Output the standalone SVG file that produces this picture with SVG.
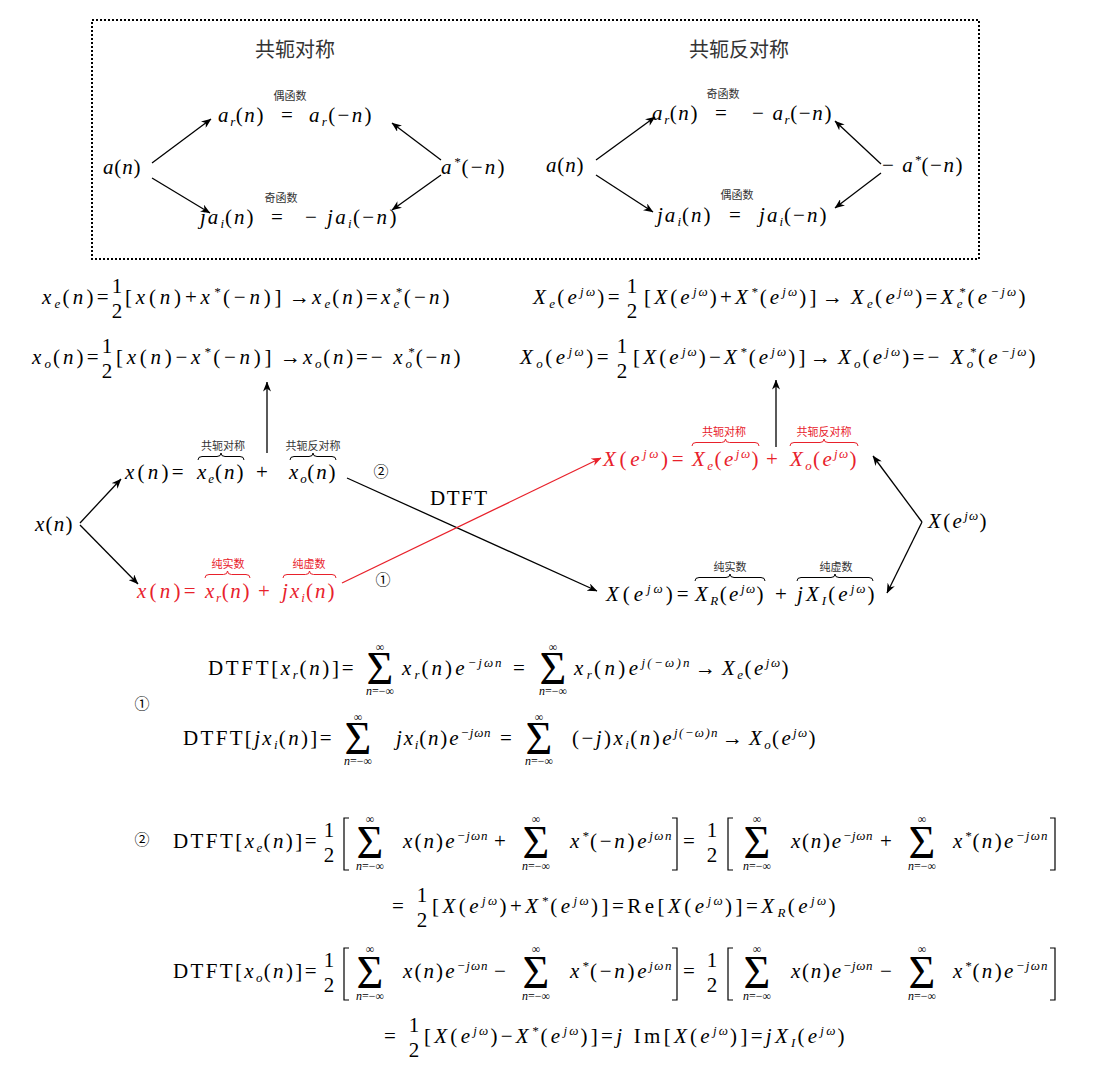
<svg xmlns="http://www.w3.org/2000/svg" width="1105" height="1081" viewBox="0 0 1105 1081">
<style>
.m{font-family:"Liberation Serif",serif;font-size:21px;letter-spacing:1.5px;fill:#000}
.i{font-style:italic}
.sb{font-size:13px;font-style:italic;baseline-shift:-4px;letter-spacing:0.4px}
.sp{font-size:13px;font-style:italic;baseline-shift:8px;letter-spacing:0.4px}
.fr{text-anchor:middle;letter-spacing:0}
.sig{font-family:"Liberation Serif",serif;font-size:46px;text-anchor:middle;fill:#000}
.lim{font-family:"Liberation Serif",serif;font-size:12px;text-anchor:middle;fill:#000}
.cn{font-family:"Noto Sans CJK SC",sans-serif;font-size:11px;text-anchor:middle;fill:#333}
.ti{font-family:"Noto Sans CJK SC",sans-serif;font-size:20px;text-anchor:middle;fill:#333}
.cc{font-family:"Noto Sans CJK SC",sans-serif;font-size:15px;text-anchor:middle;fill:#000}
.red{fill:#e8212b}
.br{fill:none;stroke:#000;stroke-width:1}
.brr{fill:none;stroke:#e8212b;stroke-width:1}
.bk{fill:none;stroke:#000;stroke-width:1.2}
.ln{fill:none;stroke:#000;stroke-width:1.3}
.lnr{fill:none;stroke:#e8212b;stroke-width:1.3}
</style>
<defs>
<marker id="ah" viewBox="0 0 10 8" refX="9.5" refY="4" markerWidth="10" markerHeight="8" markerUnits="userSpaceOnUse" orient="auto"><path d="M0,0 L10,4 L0,8 L3,4 z" fill="#000"/></marker>
<marker id="ahr" viewBox="0 0 10 8" refX="9.5" refY="4" markerWidth="10" markerHeight="8" markerUnits="userSpaceOnUse" orient="auto"><path d="M0,0 L10,4 L0,8 L3,4 z" fill="#e8212b"/></marker>
</defs>
<rect width="1105" height="1081" fill="#fff"/>
<rect x="92" y="20" width="887" height="239" fill="none" stroke="#000" stroke-width="2" stroke-dasharray="2 2"/>

<g id="box-left">
<text class="ti" x="295" y="57">共轭对称</text>
<text class="m" x="103" y="174" textLength="39" lengthAdjust="spacing"><tspan class="i">a</tspan>(<tspan class="i">n</tspan>)</text>
<text class="cn" x="290" y="100">偶函数</text>
<text class="m" x="218" y="122" textLength="47" lengthAdjust="spacing"><tspan class="i">a</tspan><tspan class="sb">r</tspan>(<tspan class="i">n</tspan>)</text>
<text class="m" x="281" y="122">=</text>
<text class="m" x="309" y="122" textLength="64" lengthAdjust="spacing"><tspan class="i">a</tspan><tspan class="sb">r</tspan>(−<tspan class="i">n</tspan>)</text>
<text class="cn" x="281" y="202">奇函数</text>
<text class="m" x="200" y="224" textLength="55" lengthAdjust="spacing"><tspan class="i">ja</tspan><tspan class="sb">i</tspan>(<tspan class="i">n</tspan>)</text>
<text class="m" x="271" y="224">=</text>
<text class="m" x="305" y="224" textLength="93" lengthAdjust="spacing">− <tspan class="i">ja</tspan><tspan class="sb">i</tspan>(−<tspan class="i">n</tspan>)</text>
<text class="m" x="441" y="174" textLength="65" lengthAdjust="spacing"><tspan class="i">a</tspan><tspan class="sp">*</tspan>(−<tspan class="i">n</tspan>)</text>
</g>

<g id="box-right">
<text class="ti" x="739" y="57">共轭反对称</text>
<text class="m" x="546" y="172" textLength="39" lengthAdjust="spacing"><tspan class="i">a</tspan>(<tspan class="i">n</tspan>)</text>
<text class="cn" x="723" y="98">奇函数</text>
<text class="m" x="652" y="120" textLength="47" lengthAdjust="spacing"><tspan class="i">a</tspan><tspan class="sb">r</tspan>(<tspan class="i">n</tspan>)</text>
<text class="m" x="715" y="120">=</text>
<text class="m" x="752" y="120" textLength="81" lengthAdjust="spacing">− <tspan class="i">a</tspan><tspan class="sb">r</tspan>(−<tspan class="i">n</tspan>)</text>
<text class="cn" x="737" y="199">偶函数</text>
<text class="m" x="657" y="222" textLength="55" lengthAdjust="spacing"><tspan class="i">ja</tspan><tspan class="sb">i</tspan>(<tspan class="i">n</tspan>)</text>
<text class="m" x="729" y="222">=</text>
<text class="m" x="759" y="222" textLength="69" lengthAdjust="spacing"><tspan class="i">ja</tspan><tspan class="sb">i</tspan>(−<tspan class="i">n</tspan>)</text>
<text class="m" x="882" y="172" textLength="82" lengthAdjust="spacing">− <tspan class="i">a</tspan><tspan class="sp">*</tspan>(−<tspan class="i">n</tspan>)</text>
</g>

<g id="eq-xe">
<text class="m" x="42" y="304" textLength="68" lengthAdjust="spacing"><tspan class="i">x</tspan><tspan class="sb">e</tspan>(<tspan class="i">n</tspan>)=</text>
<text class="m fr" x="117" y="293">1</text><text class="m fr" x="117" y="318">2</text>
<text class="m" x="125" y="304" textLength="158" lengthAdjust="spacing">[<tspan class="i">x</tspan>(<tspan class="i">n</tspan>)+<tspan class="i">x</tspan><tspan class="sp">*</tspan>(−<tspan class="i">n</tspan>)]</text>
<text class="m" x="289" y="304">→</text>
<text class="m" x="312" y="304" textLength="139" lengthAdjust="spacing"><tspan class="i">x</tspan><tspan class="sb">e</tspan>(<tspan class="i">n</tspan>)=<tspan class="i">x</tspan><tspan class="sb">e</tspan><tspan class="sp" dx="-6">*</tspan>(−<tspan class="i">n</tspan>)</text>
</g>
<g id="eq-xo">
<text class="m" x="32" y="364" textLength="68" lengthAdjust="spacing"><tspan class="i">x</tspan><tspan class="sb">o</tspan>(<tspan class="i">n</tspan>)=</text>
<text class="m fr" x="107" y="353">1</text><text class="m fr" x="107" y="378">2</text>
<text class="m" x="116" y="364" textLength="157" lengthAdjust="spacing">[<tspan class="i">x</tspan>(<tspan class="i">n</tspan>)−<tspan class="i">x</tspan><tspan class="sp">*</tspan>(−<tspan class="i">n</tspan>)]</text>
<text class="m" x="280" y="364">→</text>
<text class="m" x="303" y="364" textLength="159" lengthAdjust="spacing"><tspan class="i">x</tspan><tspan class="sb">o</tspan>(<tspan class="i">n</tspan>)=− <tspan class="i">x</tspan><tspan class="sb">o</tspan><tspan class="sp" dx="-6">*</tspan>(−<tspan class="i">n</tspan>)</text>
</g>
<g id="eq-Xe">
<text class="m" x="533" y="304" textLength="88" lengthAdjust="spacing"><tspan class="i">X</tspan><tspan class="sb">e</tspan>(<tspan class="i">e</tspan><tspan class="sp">jω</tspan>)=</text>
<text class="m fr" x="632" y="293">1</text><text class="m fr" x="632" y="318">2</text>
<text class="m" x="644" y="304" textLength="174" lengthAdjust="spacing">[<tspan class="i">X</tspan>(<tspan class="i">e</tspan><tspan class="sp">jω</tspan>)+<tspan class="i">X</tspan><tspan class="sp">*</tspan>(<tspan class="i">e</tspan><tspan class="sp">jω</tspan>)]</text>
<text class="m" x="822" y="304">→</text>
<text class="m" x="851" y="304" textLength="176" lengthAdjust="spacing"><tspan class="i">X</tspan><tspan class="sb">e</tspan>(<tspan class="i">e</tspan><tspan class="sp">jω</tspan>)=<tspan class="i">X</tspan><tspan class="sb">e</tspan><tspan class="sp" dx="-6">*</tspan>(<tspan class="i">e</tspan><tspan class="sp">−jω</tspan>)</text>
</g>
<g id="eq-Xo">
<text class="m" x="520" y="364" textLength="90" lengthAdjust="spacing"><tspan class="i">X</tspan><tspan class="sb">o</tspan>(<tspan class="i">e</tspan><tspan class="sp">jω</tspan>)=</text>
<text class="m fr" x="622" y="353">1</text><text class="m fr" x="622" y="378">2</text>
<text class="m" x="633" y="364" textLength="174" lengthAdjust="spacing">[<tspan class="i">X</tspan>(<tspan class="i">e</tspan><tspan class="sp">jω</tspan>)−<tspan class="i">X</tspan><tspan class="sp">*</tspan>(<tspan class="i">e</tspan><tspan class="sp">jω</tspan>)]</text>
<text class="m" x="810" y="364">→</text>
<text class="m" x="838" y="364" textLength="199" lengthAdjust="spacing"><tspan class="i">X</tspan><tspan class="sb">o</tspan>(<tspan class="i">e</tspan><tspan class="sp">jω</tspan>)=− <tspan class="i">X</tspan><tspan class="sb">o</tspan><tspan class="sp" dx="-6">*</tspan>(<tspan class="i">e</tspan><tspan class="sp">−jω</tspan>)</text>
</g>

<g id="x-n">
<text class="m" x="35" y="531" textLength="39" lengthAdjust="spacing"><tspan class="i">x</tspan>(<tspan class="i">n</tspan>)</text>
</g>
<g id="x-eo">
<text class="m" x="125" y="479" textLength="60" lengthAdjust="spacing"><tspan class="i">x</tspan>(<tspan class="i">n</tspan>)=</text>
<text class="m" x="197" y="479" textLength="48" lengthAdjust="spacing"><tspan class="i">x</tspan><tspan class="sb">e</tspan>(<tspan class="i">n</tspan>)</text>
<text class="m" x="256" y="479">+</text>
<text class="m" x="289" y="479" textLength="48" lengthAdjust="spacing"><tspan class="i">x</tspan><tspan class="sb">o</tspan>(<tspan class="i">n</tspan>)</text>
<text class="cn" x="223" y="450">共轭对称</text>
<text class="cn" x="313" y="450">共轭反对称</text>
<path class="br" d="M198,460 Q198,456.5 202,456.5 L217,456.5 Q221,456.5 221,453 Q221,456.5 225,456.5 L240,456.5 Q244,456.5 244,460"/>
<path class="br" d="M290,460 Q290,456.5 294,456.5 L309,456.5 Q313,456.5 313,453 Q313,456.5 317,456.5 L332,456.5 Q336,456.5 336,460"/>
<text class="cc" x="381" y="477">②</text>
</g>
<g id="x-ri">
<text class="m red" x="137" y="598" textLength="60" lengthAdjust="spacing"><tspan class="i">x</tspan>(<tspan class="i">n</tspan>)=</text>
<text class="m red" x="205" y="598" textLength="46" lengthAdjust="spacing"><tspan class="i">x</tspan><tspan class="sb">r</tspan>(<tspan class="i">n</tspan>)</text>
<text class="m red" x="258" y="598">+</text>
<text class="m red" x="282" y="598" textLength="54" lengthAdjust="spacing"><tspan class="i">jx</tspan><tspan class="sb">i</tspan>(<tspan class="i">n</tspan>)</text>
<text class="cn red" x="228" y="568">纯实数</text>
<text class="cn red" x="309" y="568">纯虚数</text>
<path class="brr" d="M205,578 Q205,574.5 209,574.5 L223.5,574.5 Q227.5,574.5 227.5,571 Q227.5,574.5 231.5,574.5 L246,574.5 Q250,574.5 250,578"/>
<path class="brr" d="M283,578 Q283,574.5 287,574.5 L305.5,574.5 Q309.5,574.5 309.5,571 Q309.5,574.5 313.5,574.5 L332,574.5 Q336,574.5 336,578"/>
<text class="cc" x="383" y="585">①</text>
</g>
<g id="dtft-label">
<text class="m" x="430" y="505">DTFT</text>
</g>
<g id="X-eo">
<text class="m red" x="603" y="466" textLength="82" lengthAdjust="spacing"><tspan class="i">X</tspan>(<tspan class="i">e</tspan><tspan class="sp">jω</tspan>)=</text>
<text class="m red" x="692" y="466" textLength="68" lengthAdjust="spacing"><tspan class="i">X</tspan><tspan class="sb">e</tspan>(<tspan class="i">e</tspan><tspan class="sp">jω</tspan>)</text>
<text class="m red" x="766" y="466">+</text>
<text class="m red" x="790" y="466" textLength="68" lengthAdjust="spacing"><tspan class="i">X</tspan><tspan class="sb">o</tspan>(<tspan class="i">e</tspan><tspan class="sp">jω</tspan>)</text>
<text class="cn red" x="724" y="436">共轭对称</text>
<text class="cn red" x="824" y="436">共轭反对称</text>
<path class="brr" d="M692,446 Q692,442.5 696,442.5 L721.5,442.5 Q725.5,442.5 725.5,439 Q725.5,442.5 729.5,442.5 L755,442.5 Q759,442.5 759,446"/>
<path class="brr" d="M790,446 Q790,442.5 794,442.5 L820,442.5 Q824,442.5 824,439 Q824,442.5 828,442.5 L854,442.5 Q858,442.5 858,446"/>
</g>
<g id="X-w">
<text class="m" x="928" y="528" textLength="60" lengthAdjust="spacing"><tspan class="i">X</tspan>(<tspan class="i">e</tspan><tspan class="sp">jω</tspan>)</text>
</g>
<g id="X-RI">
<text class="m" x="606" y="601" textLength="84" lengthAdjust="spacing"><tspan class="i">X</tspan>(<tspan class="i">e</tspan><tspan class="sp">jω</tspan>)=</text>
<text class="m" x="695" y="601" textLength="70" lengthAdjust="spacing"><tspan class="i">X</tspan><tspan class="sb">R</tspan>(<tspan class="i">e</tspan><tspan class="sp">jω</tspan>)</text>
<text class="m" x="775" y="601">+</text>
<text class="m" x="797" y="601" textLength="79" lengthAdjust="spacing"><tspan class="i">jX</tspan><tspan class="sb">I</tspan>(<tspan class="i">e</tspan><tspan class="sp">jω</tspan>)</text>
<text class="cn" x="730" y="571">纯实数</text>
<text class="cn" x="836" y="571">纯虚数</text>
<path class="br" d="M695,581 Q695,577.5 699,577.5 L726,577.5 Q730,577.5 730,574 Q730,577.5 734,577.5 L761,577.5 Q765,577.5 765,581"/>
<path class="br" d="M797,581 Q797,577.5 801,577.5 L831,577.5 Q835,577.5 835,574 Q835,577.5 839,577.5 L869,577.5 Q873,577.5 873,581"/>
</g>

<g id="connectors">
<line class="ln" x1="152" y1="163" x2="211" y2="119" marker-end="url(#ah)"/>
<line class="ln" x1="152" y1="178" x2="210" y2="213" marker-end="url(#ah)"/>
<line class="ln" x1="441" y1="160" x2="392" y2="123" marker-end="url(#ah)"/>
<line class="ln" x1="441" y1="175" x2="392" y2="210" marker-end="url(#ah)"/>
<line class="ln" x1="596" y1="160" x2="655" y2="117" marker-end="url(#ah)"/>
<line class="ln" x1="596" y1="175" x2="653" y2="212" marker-end="url(#ah)"/>
<line class="ln" x1="881" y1="164" x2="835" y2="121" marker-end="url(#ah)"/>
<line class="ln" x1="881" y1="173" x2="835" y2="208" marker-end="url(#ah)"/>
<line class="ln" x1="80" y1="523" x2="121" y2="479" marker-end="url(#ah)"/>
<line class="ln" x1="80" y1="525" x2="138" y2="584" marker-end="url(#ah)"/>
<line class="ln" x1="267" y1="453" x2="267" y2="382" marker-end="url(#ah)"/>
<line class="ln" x1="347" y1="478" x2="597" y2="591" marker-end="url(#ah)"/>
<line class="lnr" x1="342" y1="583" x2="601" y2="458" marker-end="url(#ahr)"/>
<line class="ln" x1="776" y1="447" x2="776" y2="380" marker-end="url(#ah)"/>
<line class="ln" x1="922" y1="522" x2="873" y2="456" marker-end="url(#ah)"/>
<line class="ln" x1="922" y1="522" x2="887" y2="593" marker-end="url(#ah)"/>
</g>

<g id="eq-dtft-r">
<text class="m" x="208" y="675" textLength="147" lengthAdjust="spacing">DTFT[<tspan class="i">x</tspan><tspan class="sb">r</tspan>(<tspan class="i">n</tspan>)]=</text>
<text class="sig" x="380" y="684">Σ</text><text class="lim" x="380" y="651">∞</text><text class="lim" x="380" y="695"><tspan class="i">n</tspan>=−∞</text>
<text class="m" x="402" y="675" textLength="100" lengthAdjust="spacing"><tspan class="i">x</tspan><tspan class="sb">r</tspan>(<tspan class="i">n</tspan>)<tspan class="i">e</tspan><tspan class="sp">−jωn</tspan></text>
<text class="m" x="513" y="675">=</text>
<text class="sig" x="553" y="684">Σ</text><text class="lim" x="553" y="651">∞</text><text class="lim" x="553" y="695"><tspan class="i">n</tspan>=−∞</text>
<text class="m" x="574" y="675" textLength="116" lengthAdjust="spacing"><tspan class="i">x</tspan><tspan class="sb">r</tspan>(<tspan class="i">n</tspan>)<tspan class="i">e</tspan><tspan class="sp">j(−ω)n</tspan></text>
<text class="m" x="695" y="675">→</text>
<text class="m" x="722" y="675" textLength="68" lengthAdjust="spacing"><tspan class="i">X</tspan><tspan class="sb">e</tspan>(<tspan class="i">e</tspan><tspan class="sp">jω</tspan>)</text>
</g>
<g id="num1"><text class="cc" x="142" y="709">①</text></g>
<g id="eq-dtft-i">
<text class="m" x="183" y="745" textLength="150" lengthAdjust="spacing">DTFT[<tspan class="i">jx</tspan><tspan class="sb">i</tspan>(<tspan class="i">n</tspan>)]=</text>
<text class="sig" x="358" y="754">Σ</text><text class="lim" x="358" y="721">∞</text><text class="lim" x="358" y="765"><tspan class="i">n</tspan>=−∞</text>
<text class="m" x="396" y="745" textLength="95" lengthAdjust="spacing"><tspan class="i">jx</tspan><tspan class="sb">i</tspan>(<tspan class="i">n</tspan>)<tspan class="i">e</tspan><tspan class="sp">−jωn</tspan></text>
<text class="m" x="500" y="745">=</text>
<text class="sig" x="539" y="754">Σ</text><text class="lim" x="539" y="721">∞</text><text class="lim" x="539" y="765"><tspan class="i">n</tspan>=−∞</text>
<text class="m" x="572" y="745" textLength="146" lengthAdjust="spacing">(−<tspan class="i">j</tspan>)<tspan class="i">x</tspan><tspan class="sb">i</tspan>(<tspan class="i">n</tspan>)<tspan class="i">e</tspan><tspan class="sp">j(−ω)n</tspan></text>
<text class="m" x="722" y="745">→</text>
<text class="m" x="749" y="745" textLength="68" lengthAdjust="spacing"><tspan class="i">X</tspan><tspan class="sb">o</tspan>(<tspan class="i">e</tspan><tspan class="sp">jω</tspan>)</text>
</g>

<g id="num2"><text class="cc" x="142" y="845">②</text></g>
<g id="eq-dtft-e">
<text class="m" x="173" y="848" textLength="145" lengthAdjust="spacing">DTFT[<tspan class="i">x</tspan><tspan class="sb">e</tspan>(<tspan class="i">n</tspan>)]=</text>
<text class="m fr" x="329" y="837">1</text><text class="m fr" x="329" y="862">2</text>
<path class="bk" d="M349,818 H344 V870 H349"/>
<text class="sig" x="370" y="858">Σ</text><text class="lim" x="370" y="823">∞</text><text class="lim" x="370" y="870"><tspan class="i">n</tspan>=−∞</text>
<text class="m" x="403" y="848" textLength="85" lengthAdjust="spacing"><tspan class="i">x</tspan>(<tspan class="i">n</tspan>)<tspan class="i">e</tspan><tspan class="sp">−jωn</tspan></text>
<text class="m" x="494" y="848">+</text>
<text class="sig" x="536" y="858">Σ</text><text class="lim" x="536" y="823">∞</text><text class="lim" x="536" y="870"><tspan class="i">n</tspan>=−∞</text>
<text class="m" x="570" y="848" textLength="102" lengthAdjust="spacing"><tspan class="i">x</tspan><tspan class="sp">*</tspan>(−<tspan class="i">n</tspan>)<tspan class="i">e</tspan><tspan class="sp">jωn</tspan></text>
<path class="bk" d="M672,818 H677 V870 H672"/>
<text class="m" x="683" y="848">=</text>
<text class="m fr" x="712" y="837">1</text><text class="m fr" x="712" y="862">2</text>
<path class="bk" d="M733,818 H728 V870 H733"/>
<text class="sig" x="757" y="858">Σ</text><text class="lim" x="757" y="823">∞</text><text class="lim" x="757" y="870"><tspan class="i">n</tspan>=−∞</text>
<text class="m" x="791" y="848" textLength="82" lengthAdjust="spacing"><tspan class="i">x</tspan>(<tspan class="i">n</tspan>)<tspan class="i">e</tspan><tspan class="sp">−jωn</tspan></text>
<text class="m" x="880" y="848">+</text>
<text class="sig" x="922" y="858">Σ</text><text class="lim" x="922" y="823">∞</text><text class="lim" x="922" y="870"><tspan class="i">n</tspan>=−∞</text>
<text class="m" x="953" y="848" textLength="95" lengthAdjust="spacing"><tspan class="i">x</tspan><tspan class="sp">*</tspan>(<tspan class="i">n</tspan>)<tspan class="i">e</tspan><tspan class="sp">−jωn</tspan></text>
<path class="bk" d="M1050,818 H1055 V870 H1050"/>
</g>
<g id="eq-re">
<text class="m" x="392" y="913">=</text>
<text class="m fr" x="422" y="902">1</text><text class="m fr" x="422" y="927">2</text>
<text class="m" x="432" y="913" textLength="405" lengthAdjust="spacing">[<tspan class="i">X</tspan>(<tspan class="i">e</tspan><tspan class="sp">jω</tspan>)+<tspan class="i">X</tspan><tspan class="sp">*</tspan>(<tspan class="i">e</tspan><tspan class="sp">jω</tspan>)]=Re[<tspan class="i">X</tspan>(<tspan class="i">e</tspan><tspan class="sp">jω</tspan>)]=<tspan class="i">X</tspan><tspan class="sb">R</tspan>(<tspan class="i">e</tspan><tspan class="sp">jω</tspan>)</text>
</g>
<g id="eq-dtft-o">
<text class="m" x="173" y="978" textLength="145" lengthAdjust="spacing">DTFT[<tspan class="i">x</tspan><tspan class="sb">o</tspan>(<tspan class="i">n</tspan>)]=</text>
<text class="m fr" x="329" y="967">1</text><text class="m fr" x="329" y="992">2</text>
<path class="bk" d="M349,948 H344 V1000 H349"/>
<text class="sig" x="370" y="988">Σ</text><text class="lim" x="370" y="953">∞</text><text class="lim" x="370" y="1000"><tspan class="i">n</tspan>=−∞</text>
<text class="m" x="403" y="978" textLength="85" lengthAdjust="spacing"><tspan class="i">x</tspan>(<tspan class="i">n</tspan>)<tspan class="i">e</tspan><tspan class="sp">−jωn</tspan></text>
<text class="m" x="494" y="978">−</text>
<text class="sig" x="536" y="988">Σ</text><text class="lim" x="536" y="953">∞</text><text class="lim" x="536" y="1000"><tspan class="i">n</tspan>=−∞</text>
<text class="m" x="570" y="978" textLength="102" lengthAdjust="spacing"><tspan class="i">x</tspan><tspan class="sp">*</tspan>(−<tspan class="i">n</tspan>)<tspan class="i">e</tspan><tspan class="sp">jωn</tspan></text>
<path class="bk" d="M672,948 H677 V1000 H672"/>
<text class="m" x="683" y="978">=</text>
<text class="m fr" x="712" y="967">1</text><text class="m fr" x="712" y="992">2</text>
<path class="bk" d="M733,948 H728 V1000 H733"/>
<text class="sig" x="757" y="988">Σ</text><text class="lim" x="757" y="953">∞</text><text class="lim" x="757" y="1000"><tspan class="i">n</tspan>=−∞</text>
<text class="m" x="791" y="978" textLength="82" lengthAdjust="spacing"><tspan class="i">x</tspan>(<tspan class="i">n</tspan>)<tspan class="i">e</tspan><tspan class="sp">−jωn</tspan></text>
<text class="m" x="880" y="978">−</text>
<text class="sig" x="922" y="988">Σ</text><text class="lim" x="922" y="953">∞</text><text class="lim" x="922" y="1000"><tspan class="i">n</tspan>=−∞</text>
<text class="m" x="953" y="978" textLength="95" lengthAdjust="spacing"><tspan class="i">x</tspan><tspan class="sp">*</tspan>(<tspan class="i">n</tspan>)<tspan class="i">e</tspan><tspan class="sp">−jωn</tspan></text>
<path class="bk" d="M1050,948 H1055 V1000 H1050"/>
</g>
<g id="eq-im">
<text class="m" x="384" y="1043">=</text>
<text class="m fr" x="414" y="1032">1</text><text class="m fr" x="414" y="1057">2</text>
<text class="m" x="424" y="1043" textLength="422" lengthAdjust="spacing">[<tspan class="i">X</tspan>(<tspan class="i">e</tspan><tspan class="sp">jω</tspan>)−<tspan class="i">X</tspan><tspan class="sp">*</tspan>(<tspan class="i">e</tspan><tspan class="sp">jω</tspan>)]=<tspan class="i">j</tspan> Im[<tspan class="i">X</tspan>(<tspan class="i">e</tspan><tspan class="sp">jω</tspan>)]=<tspan class="i">jX</tspan><tspan class="sb">I</tspan>(<tspan class="i">e</tspan><tspan class="sp">jω</tspan>)</text>
</g>
</svg>
